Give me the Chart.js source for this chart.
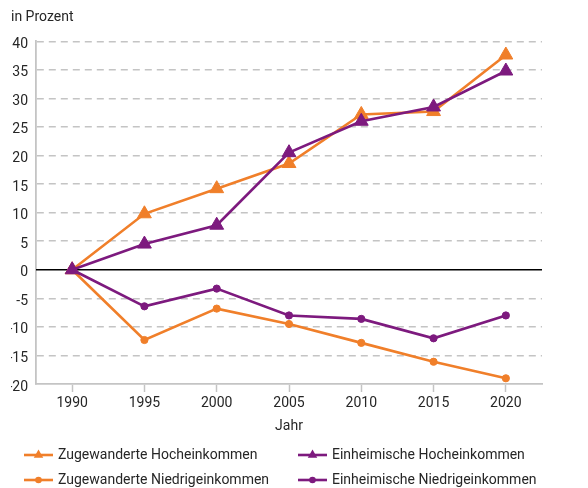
<!DOCTYPE html>
<html><head><meta charset="utf-8">
<script src="https://cdn.jsdelivr.net/npm/chart.js@4/dist/chart.umd.min.js"></script>
<style>html,body{margin:0;padding:0;background:#fff}#wrap{width:588px;height:488px;position:relative}</style>
</head><body><div id="wrap"><canvas id="c" width="588" height="488"></canvas></div>
<script>
const years = ['1990','1995','2000','2005','2010','2015','2020'];
const zugHoch = [0, 9.8, 14.2, 18.6, 27.2, 27.7, 37.6];
const einHoch = [0, 4.5, 7.8, 20.5, 26.0, 28.5, 34.8];
const zugNied = [0, -12.3, -6.8, -9.5, -12.8, -16.1, -19.0];
const einNied = [0, -6.4, -3.3, -8.0, -8.6, -12.0, -8.0];
const yTicks = [-20,-15,-10,-5,0,5,10,15,20,25,30,35,40];
const seriesNames = ['Zugewanderte Hocheinkommen','Einheimische Hocheinkommen','Zugewanderte Niedrigeinkommen','Einheimische Niedrigeinkommen'];

const ORANGE = '#F07F2A', PURPLE = '#7D1A7E', TXT = '#262626', GRID = '#c4c4c4';
const FONT = 'Roboto';
const FS = 14;

function ds(label, data, color, style, order){
  return {label, data, borderColor: color, backgroundColor: color, borderWidth: 2.6,
    pointStyle: style, pointRadius: style==='triangle'?8:3.6, pointBorderWidth: 1,
    pointBorderColor: color, pointBackgroundColor: color, tension: 0, order};
}

const legendPlugin = {
  id: 'customLegend',
  afterDraw(chart){
    const ctx = chart.ctx;
    const items = [
      {x: 24, y: 455, i: 0}, {x: 298, y: 455, i: 1},
      {x: 24, y: 480, i: 2}, {x: 298, y: 480, i: 3}
    ];
    ctx.save();
    items.forEach(it => {
      const d = chart.data.datasets[it.i];
      ctx.strokeStyle = d.borderColor; ctx.fillStyle = d.borderColor; ctx.lineWidth = 2.6;
      ctx.beginPath(); ctx.moveTo(it.x, it.y); ctx.lineTo(it.x + 29, it.y); ctx.stroke();
      const cx = it.x + 14.5;
      ctx.beginPath();
      if (d.pointStyle === 'triangle') {
        const r = 5.5;
        ctx.moveTo(cx, it.y - r);
        ctx.lineTo(cx + r*0.866, it.y + r*0.5);
        ctx.lineTo(cx - r*0.866, it.y + r*0.5);
        ctx.closePath();
      } else {
        ctx.arc(cx, it.y, 3.3, 0, Math.PI*2);
      }
      ctx.fill();
      ctx.fillStyle = TXT; ctx.font = FS + 'px ' + FONT; ctx.textBaseline = 'middle'; ctx.textAlign = 'left';
      ctx.fillText(d.label, it.x + 34, it.y);
    });
    ctx.restore();
  }
};

const zeroLine = {
  id: 'zeroLine',
  beforeDatasetsDraw(chart){
    const y = chart.scales.y.getPixelForValue(0);
    const {left, right} = chart.chartArea;
    const ctx = chart.ctx;
    ctx.save(); ctx.strokeStyle = '#000'; ctx.lineWidth = 1.4;
    ctx.beginPath(); ctx.moveTo(left, y); ctx.lineTo(right, y); ctx.stroke(); ctx.restore();
  }
};

new Chart(document.getElementById('c'), {
  type: 'line',
  data: {
    labels: years,
    datasets: [
      ds(seriesNames[0], zugHoch, ORANGE, 'triangle', 1),
      ds(seriesNames[1], einHoch, PURPLE, 'triangle', 0),
      ds(seriesNames[2], zugNied, ORANGE, 'circle', 1),
      ds(seriesNames[3], einNied, PURPLE, 'circle', 0)
    ]
  },
  options: {
    responsive: false, animation: false, devicePixelRatio: 1,
    layout: {padding: {left: 11, right: 46, top: 0, bottom: 53}},
    plugins: {
      legend: {display: false}, tooltip: {enabled: false},
      title: {display: true, text: 'in Prozent', align: 'start', color: TXT,
        font: {family: FONT, size: FS, weight: 'normal'}, padding: {top: 9, bottom: 15.5}}
    },
    scales: {
      x: {
        type: 'category', offset: true,
        grid: {drawOnChartArea: false, drawTicks: true, tickLength: 8, tickColor: GRID, tickWidth: 1.5, offset: false},
        border: {color: GRID, width: 1.8},
        ticks: {color: TXT, font: {family: FONT, size: FS}, padding: 3, maxRotation: 0},
        title: {display: true, text: 'Jahr', color: TXT, font: {family: FONT, size: FS}, padding: 0},
        afterFit(s){ s.height = 51; }
      },
      y: {
        min: -20, max: 40,
        afterBuildTicks(s){ s.ticks = yTicks.map(v => ({value: v})); },
        grid: {drawTicks: false, color: c => c.tick && (c.tick.value === 0 || c.tick.value === -20) ? 'rgba(0,0,0,0)' : GRID, lineWidth: 1.5},
        border: {color: GRID, width: 1.8, dash: [7,5]},
        ticks: {color: TXT, font: {family: FONT, size: FS}, padding: 8, labelOffset: 3},
        afterFit(s){ s.width = 25; }
      }
    }
  },
  plugins: [zeroLine, legendPlugin]
});
</script></body></html>
